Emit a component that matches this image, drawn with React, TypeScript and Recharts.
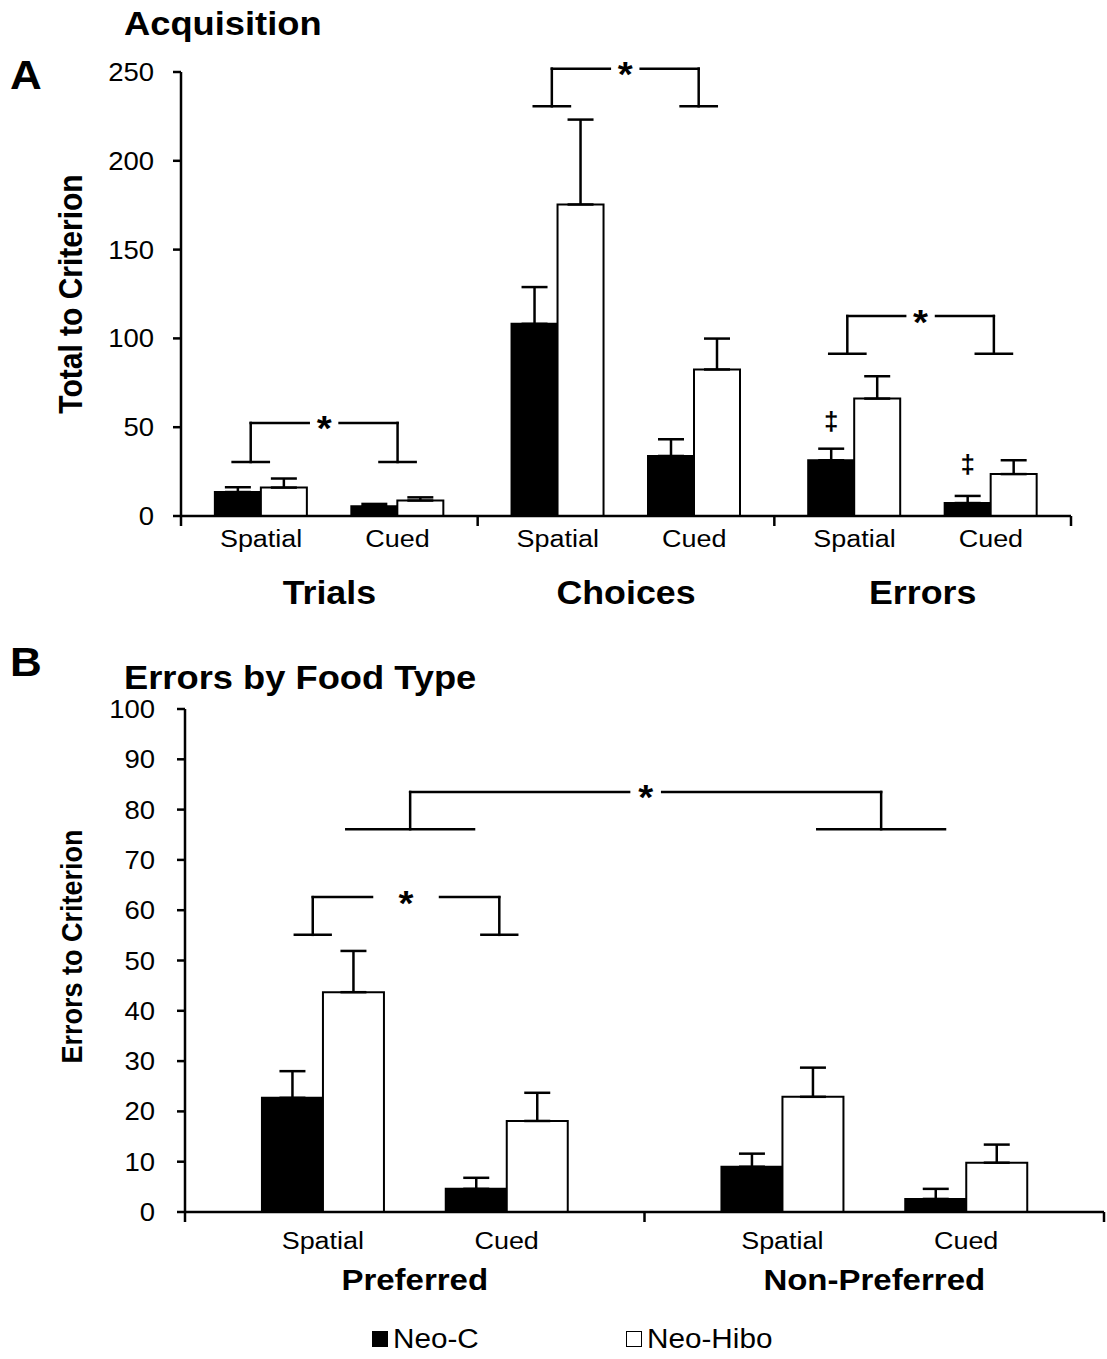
import React from 'react';
import {
  BarChart,
  Bar,
  XAxis,
  YAxis,
  ErrorBar,
  ReferenceLine,
  ReferenceDot,
  LabelList,
  Legend,
} from 'recharts';

const FONT = '"Liberation Sans", Arial, Helvetica, sans-serif';
const SX = 1.1; // the source figure is a little wider than it is tall

// Panel A: acquisition
const ACQ_MEASURES = ['Trials', 'Choices', 'Errors'];
const CONDITIONS = ['Spatial', 'Cued'];
const ACQ_NEO_C = [13.5, 5.5, 108.2, 33.8, 31.4, 7.3];
const ACQ_NEO_C_SEM = [2.7, 1.3, 20.7, 9.4, 6.5, 4.0];
const ACQ_NEO_HIBO = [16.0, 8.7, 175.4, 82.5, 66.1, 23.6];
const ACQ_NEO_HIBO_SEM = [5.1, 1.8, 47.8, 17.4, 12.6, 7.8];
const ACQ_MARKS = ['', '', '', '', '‡', '‡'];
const ACQ_TICKS = [0, 50, 100, 150, 200, 250];

// Panel B: errors by food type
const FOOD_TYPES = ['Preferred', 'Non-Preferred'];
const FOOD_NEO_C = [22.7, 4.6, 9.0, 2.6];
const FOOD_NEO_C_SEM = [5.3, 2.2, 2.6, 2.0];
const FOOD_NEO_HIBO = [43.7, 18.1, 22.9, 9.8];
const FOOD_NEO_HIBO_SEM = [8.2, 5.6, 5.8, 3.6];
const FOOD_TICKS = [0, 10, 20, 30, 40, 50, 60, 70, 80, 90, 100];

// significance brackets (x in group units, y in data units)
const ACQ_BRACKETS = [
  { x1: 0.235, x2: 0.73, foot: 30.4, top: 52.4, footHalf: 0.061, gapHalf: 0.052 },
  { x1: 1.25, x2: 1.745, foot: 230.7, top: 251.9, footHalf: 0.061, gapHalf: 0.052 },
  { x1: 2.246, x2: 2.74, foot: 91.4, top: 112.6, footHalf: 0.061, gapHalf: 0.052 },
];
const FOOD_BRACKETS = [
  { x1: 0.278, x2: 0.684, foot: 55.1, top: 62.6, footHalf: 0.039, gapHalf: 0.074 },
  { x1: 0.49, x2: 1.515, foot: 76.1, top: 83.5, footHalf: 0.139, gapHalf: 0.036 },
];

const ACQ_SUB = [0.27, 0.73];
const FOOD_SUB = [0.3, 0.7];

function buildRows(groups, sub, c, cSem, h, hSem, marks?) {
  const rows = [];
  groups.forEach((g, gi) => {
    CONDITIONS.forEach((cond, ci) => {
      const i = gi * 2 + ci;
      rows.push({
        pos: gi + sub[ci],
        group: g,
        cond,
        neoC: c[i],
        neoCErr: [0, cSem[i]],
        neoHibo: h[i],
        neoHiboErr: [0, hSem[i]],
        mark: marks ? marks[i] : '',
      });
    });
  });
  return rows;
}

const acqRows = buildRows(ACQ_MEASURES, ACQ_SUB, ACQ_NEO_C, ACQ_NEO_C_SEM, ACQ_NEO_HIBO, ACQ_NEO_HIBO_SEM, ACQ_MARKS);
const foodRows = buildRows(FOOD_TYPES, FOOD_SUB, FOOD_NEO_C, FOOD_NEO_C_SEM, FOOD_NEO_HIBO, FOOD_NEO_HIBO_SEM);

function xTicksFor(rows, nGroups) {
  const t = [];
  for (let g = 0; g <= nGroups; g++) t.push(g);
  for (let g = 0; g < nGroups; g++) t.push(g + 0.5);
  rows.forEach((r) => t.push(r.pos));
  return t.sort((a, b) => a - b);
}

function SText({ x, y, size, weight = 'normal', anchor = 'middle', children }) {
  return (
    <text
      transform={`translate(${x},${y}) scale(${SX},1)`}
      textAnchor={anchor}
      fontFamily={FONT}
      fontSize={size}
      fontWeight={weight}
      fill="#000"
    >
      {children}
    </text>
  );
}

function makeXTick(rows, groups, condDy, groupDy, groupSize) {
  return function XTick(props) {
    const { x, y, payload } = props;
    const v = payload.value;
    if (Math.abs(v - Math.round(v)) < 1e-6) {
      return <line x1={x} y1={y} x2={x} y2={y + 10} stroke="#000" strokeWidth={2.5} />;
    }
    const row = rows.find((r) => Math.abs(r.pos - v) < 1e-6);
    if (row) {
      return <SText x={x} y={y + condDy} size={24.5}>{row.cond}</SText>;
    }
    return (
      <SText x={x} y={y + groupDy} size={groupSize} weight="bold">
        {groups[Math.floor(v)]}
      </SText>
    );
  };
}

function YTick(props) {
  const { x, y, payload } = props;
  return (
    <SText x={x} y={y + 9} size={25} anchor="end">
      {payload.value}
    </SText>
  );
}

function yTitle(text, size, dy) {
  return function AxisTitle(props) {
    const vb = props.viewBox;
    const cy = vb.y + vb.height / 2 + dy;
    return (
      <text
        transform={`translate(82,${cy}) scale(${SX},1) rotate(-90)`}
        textAnchor="middle"
        fontFamily={FONT}
        fontWeight="bold"
        fontSize={size}
        fill="#000"
      >
        {text}
      </text>
    );
  };
}

function Star(props) {
  const { cx, cy } = props;
  return (
    <SText x={cx} y={cy + 17.5} size={35} weight="bold">
      *
    </SText>
  );
}

function DaggerLabel(props) {
  const { x, y, width, value } = props;
  if (!value) return null;
  return (
    <text x={x + width / 2} y={y - 30} textAnchor="middle" fontFamily={FONT} fontWeight="bold" fontSize={26}>
      {value}
    </text>
  );
}

function bracketElements(brackets, prefix) {
  const line = { stroke: '#000', strokeWidth: 2.5, strokeLinecap: 'square', ifOverflow: 'visible' };
  return brackets.flatMap((b, i) => {
    const mid = (b.x1 + b.x2) / 2;
    const segs = [
      [[b.x1 - b.footHalf, b.foot], [b.x1 + b.footHalf, b.foot]],
      [[b.x1, b.foot], [b.x1, b.top]],
      [[b.x1, b.top], [mid - b.gapHalf, b.top]],
      [[mid + b.gapHalf, b.top], [b.x2, b.top]],
      [[b.x2, b.top], [b.x2, b.foot]],
      [[b.x2 - b.footHalf, b.foot], [b.x2 + b.footHalf, b.foot]],
    ];
    return [
      ...segs.map((s, j) => (
        <ReferenceLine
          key={`${prefix}-${i}-${j}`}
          segment={[{ x: s[0][0], y: s[0][1] }, { x: s[1][0], y: s[1][1] }]}
          {...line}
        />
      )),
      <ReferenceDot key={`${prefix}-${i}-star`} x={mid} y={b.top} r={0} ifOverflow="visible" shape={Star} />,
    ];
  });
}

function LegendContent(props) {
  const { payload = [] } = props;
  return (
    <div style={{ display: 'flex', paddingLeft: 372, height: 40, alignItems: 'center' }}>
      {payload.map((p) => (
        <div key={p.value} style={{ width: 254, display: 'flex', alignItems: 'center' }}>
          <span
            style={{
              width: 16,
              height: 16,
              boxSizing: 'border-box',
              background: p.color,
              border: '1.5px solid #000',
              display: 'inline-block',
            }}
          />
          <span
            style={{
              marginLeft: 5,
              fontFamily: FONT,
              fontSize: 27,
              lineHeight: 1,
              transform: `scaleX(${SX})`,
              transformOrigin: 'left',
              whiteSpace: 'nowrap',
              color: '#000',
            }}
          >
            {p.value}
          </span>
        </div>
      ))}
    </div>
  );
}

function Caption({ left, baseline, size, children }) {
  return (
    <div
      style={{
        position: 'absolute',
        left,
        top: baseline - 0.846 * size,
        fontFamily: FONT,
        fontWeight: 'bold',
        fontSize: size,
        lineHeight: 1,
        transform: `scaleX(${SX})`,
        transformOrigin: 'left',
        whiteSpace: 'nowrap',
        color: '#000',
      }}
    >
      {children}
    </div>
  );
}

const axisLine = { stroke: '#000', strokeWidth: 2.5 };

export default function App() {
  return (
    <div style={{ position: 'absolute', left: 0, top: 0, width: 1107, height: 1359, background: '#fff' }}>
      <div style={{ position: 'absolute', left: 0, top: 0 }}>
        <BarChart
          width={1107}
          height={640}
          data={acqRows}
          margin={{ top: 72, right: 36, bottom: 0, left: 0 }}
          barGap={0}
        >
          <XAxis
            type="number"
            dataKey="pos"
            domain={[0, 3]}
            ticks={xTicksFor(acqRows, 3)}
            interval={0}
            height={124}
            axisLine={axisLine}
            tickLine={false}
            tickSize={0}
            tickMargin={0}
            tick={makeXTick(acqRows, ACQ_MEASURES, 31, 88, 32.5)}
          />
          <YAxis
            type="number"
            domain={[0, 250]}
            ticks={ACQ_TICKS}
            interval={0}
            width={181}
            axisLine={axisLine}
            tickLine={axisLine}
            tickSize={8}
            tickMargin={19}
            tick={YTick}
            label={{ content: yTitle('Total to Criterion', 30, 0) }}
          />
          <Bar dataKey="neoC" name="Neo-C" fill="#000" stroke="#000" strokeWidth={2} barSize={46} isAnimationActive={false}>
            <ErrorBar dataKey="neoCErr" direction="y" width={13} stroke="#000" strokeWidth={2.5} />
            <LabelList dataKey="mark" content={DaggerLabel} />
          </Bar>
          <Bar dataKey="neoHibo" name="Neo-Hibo" fill="#fff" stroke="#000" strokeWidth={2} barSize={46} isAnimationActive={false}>
            <ErrorBar dataKey="neoHiboErr" direction="y" width={13} stroke="#000" strokeWidth={2.5} />
          </Bar>
          {bracketElements(ACQ_BRACKETS, 'acq')}
        </BarChart>
      </div>

      <div style={{ position: 'absolute', left: 0, top: 640 }}>
        <BarChart
          width={1107}
          height={719}
          data={foodRows}
          margin={{ top: 69, right: 3, bottom: 0, left: 0 }}
          barGap={0}
        >
          <XAxis
            type="number"
            dataKey="pos"
            domain={[0, 2]}
            ticks={xTicksFor(foodRows, 2)}
            interval={0}
            height={107}
            axisLine={axisLine}
            tickLine={false}
            tickSize={0}
            tickMargin={0}
            tick={makeXTick(foodRows, FOOD_TYPES, 37, 77.5, 30)}
          />
          <YAxis
            type="number"
            domain={[0, 100]}
            ticks={FOOD_TICKS}
            interval={0}
            width={185}
            axisLine={axisLine}
            tickLine={axisLine}
            tickSize={8}
            tickMargin={22}
            tick={YTick}
            label={{ content: yTitle('Errors to Criterion', 27, -14) }}
          />
          <Legend verticalAlign="bottom" height={40} width={1107} wrapperStyle={{ left: 0 }} content={LegendContent} />
          <Bar dataKey="neoC" name="Neo-C" fill="#000" stroke="#000" strokeWidth={2} barSize={61} isAnimationActive={false}>
            <ErrorBar dataKey="neoCErr" direction="y" width={13} stroke="#000" strokeWidth={2.5} />
          </Bar>
          <Bar dataKey="neoHibo" name="Neo-Hibo" fill="#fff" stroke="#000" strokeWidth={2} barSize={61} isAnimationActive={false}>
            <ErrorBar dataKey="neoHiboErr" direction="y" width={13} stroke="#000" strokeWidth={2.5} />
          </Bar>
          {bracketElements(FOOD_BRACKETS, 'food')}
        </BarChart>
      </div>

      <Caption left={124} baseline={35} size={33}>Acquisition</Caption>
      <Caption left={10} baseline={89} size={40}>A</Caption>
      <Caption left={124} baseline={689} size={33}>Errors by Food Type</Caption>
      <Caption left={10} baseline={676} size={40}>B</Caption>
    </div>
  );
}
